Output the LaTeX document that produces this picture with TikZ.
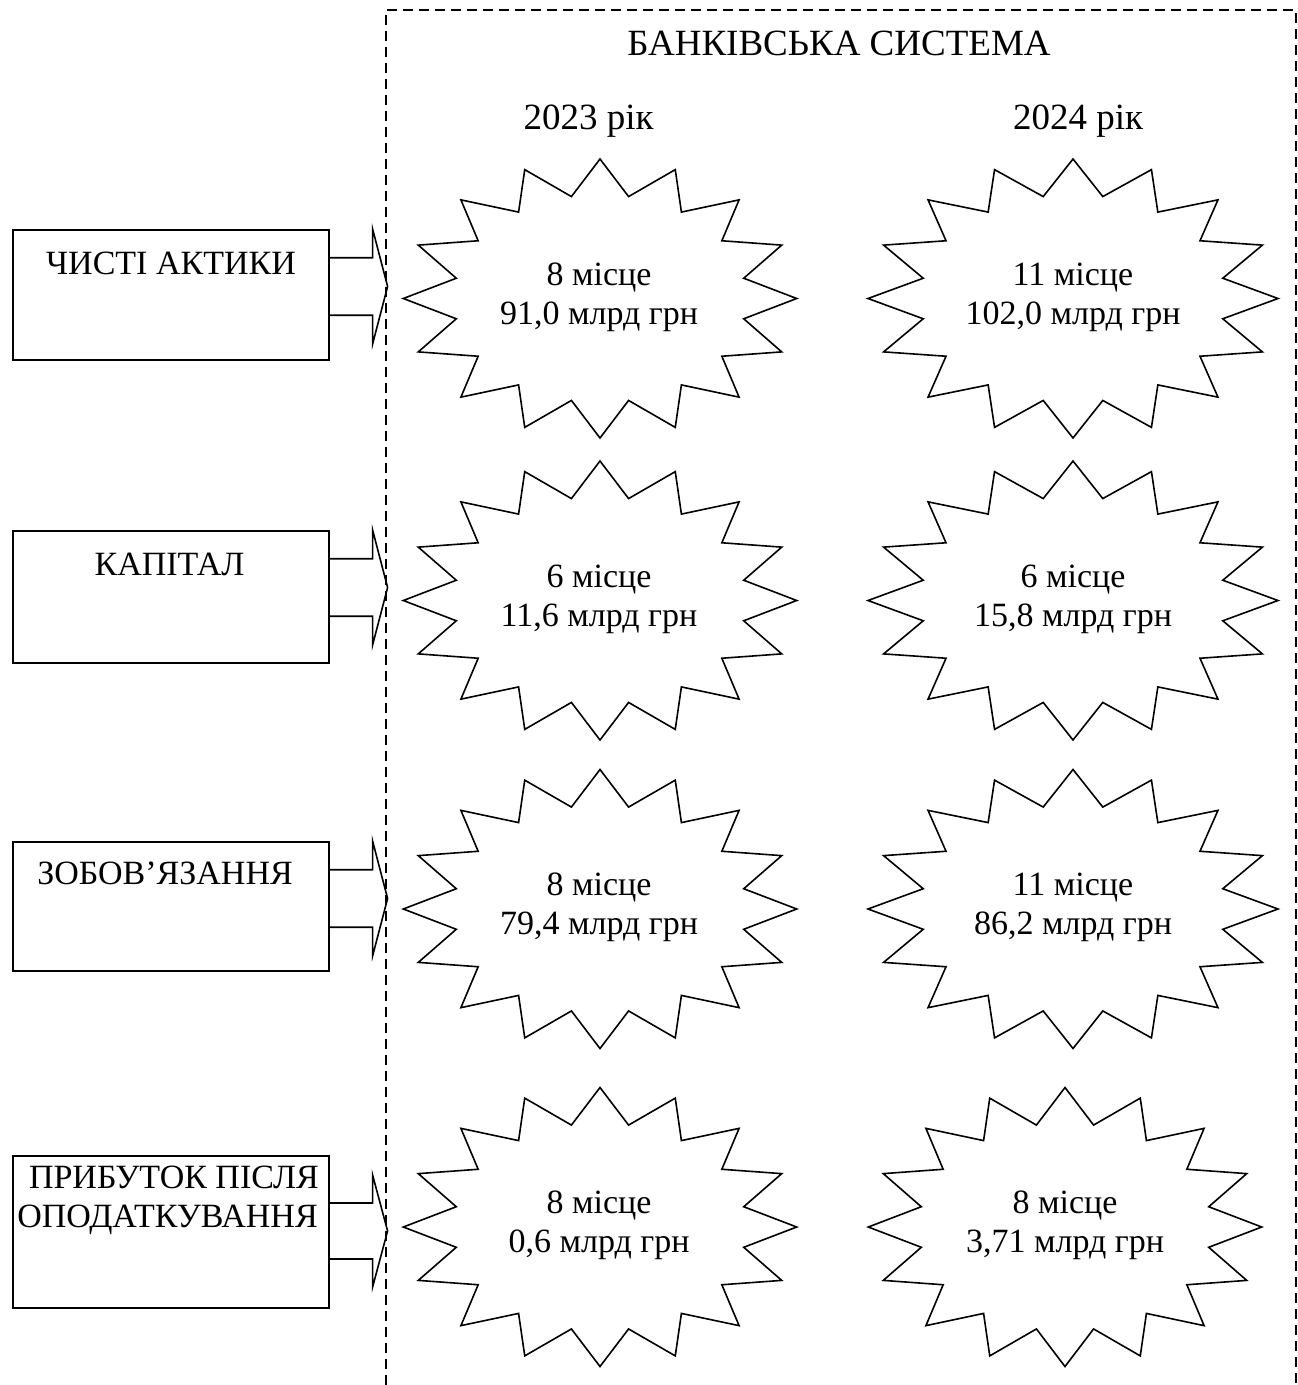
\documentclass[tikz,border=0pt]{standalone}
\usepackage{fontspec}
\setmainfont{Liberation Serif}
\usetikzlibrary{calc}
\tikzset{
  thin line/.style={line width=1.6pt, line join=miter},
  boxnode/.style={draw, line width=1.6pt, minimum width=316pt, inner sep=0pt, anchor=north west},
  boxtext/.style={font=\fontsize{34}{40}\selectfont, anchor=base, inner sep=0pt},
  startext/.style={font=\fontsize{34}{40}\selectfont, anchor=base, inner sep=0pt},
  headtext/.style={font=\fontsize{37}{44}\selectfont, anchor=base, inner sep=0pt},
  frameline/.style={line width=1.6pt, dash pattern=on 10pt off 6pt},
  blockarrow/.style={line width=1.6pt, line join=miter},
}
\newcommand\burst[4]{%
  \draw[thin line] plot[samples at={0,...,31}]
    ({#1+#3*(1-0.255*mod(\x,2))*cos(90+\x*11.25)},
     {#2-#4*(1-0.255*mod(\x,2))*sin(90+\x*11.25)}) -- cycle;}
\begin{document}
\begin{tikzpicture}[x=1pt,y=-1pt]
\useasboundingbox (0,0) rectangle (1298,1385);

% dashed frame
\draw[frameline] (386,1385) -- (386,10) -- (1296,10) -- (1296,1385);

% headings
\node[headtext] (title) at (839,55) {БАНКІВСЬКА СИСТЕМА};
\node[headtext] (y2023) at (588.5,129.5) {2023 рік};
\node[headtext] (y2024) at (1078,129.5) {2024 рік};

% left boxes
\node[boxnode, minimum height=130pt] (b1) at (12,229) {};
\node[boxnode, minimum height=132pt] (b2) at (12,530) {};
\node[boxnode, minimum height=129pt] (b3) at (12,841) {};
\node[boxnode, minimum height=152pt] (b4) at (12,1155) {};

\node[boxtext] (t1) at (171,274) {ЧИСТІ АКТИКИ};
\node[boxtext] (t2) at (169.5,575) {КАПІТАЛ};
\node[boxtext] (t3) at (165,884) {ЗОБОВ’ЯЗАННЯ};
\node[boxtext] (t4a) at (174,1188) {ПРИБУТОК ПІСЛЯ};
\node[boxtext] (t4b) at (167.5,1227) {ОПОДАТКУВАННЯ};

% block arrows
\foreach \b/\o/\h in {b1/0/115, b2/0/115, b3/0/115, b4/20/112}{
  \draw[blockarrow] ($(\b.north east)+(0,\o+0.25*\h)$) -- ++(43,0)
     -- ++(0,-0.25*\h) -- ++(15,0.5*\h) -- ++(-15,0.5*\h)
     -- ++(0,-0.25*\h) -- ++(-43,0);
}

% starbursts
\burst{600}{298.5}{196.7}{139.5}
\burst{1073}{298.5}{205}{139.5}
\burst{600}{600.5}{196.7}{139.5}
\burst{1073}{600.5}{205}{139.5}
\burst{600}{909}{196.7}{139.5}
\burst{1073}{909}{205}{139.5}
\burst{600}{1227}{196.7}{139.5}
\burst{1065}{1227}{196.7}{139.5}

% star texts
\node[startext] (s1a) at (599,285) {8 місце};
\node[startext] (s1b) at (599,324) {91,0 млрд грн};
\node[startext] (s2a) at (1073,285) {11 місце};
\node[startext] (s2b) at (1073,324) {102,0 млрд грн};
\node[startext] (s3a) at (599,587) {6 місце};
\node[startext] (s3b) at (599,626) {11,6 млрд грн};
\node[startext] (s4a) at (1073,587) {6 місце};
\node[startext] (s4b) at (1073,626) {15,8 млрд грн};
\node[startext] (s5a) at (599,895.5) {8 місце};
\node[startext] (s5b) at (599,934.5) {79,4 млрд грн};
\node[startext] (s6a) at (1073,895.5) {11 місце};
\node[startext] (s6b) at (1073,934.5) {86,2 млрд грн};
\node[startext] (s7a) at (599,1213.5) {8 місце};
\node[startext] (s7b) at (599,1252.5) {0,6 млрд грн};
\node[startext] (s8a) at (1065,1213.5) {8 місце};
\node[startext] (s8b) at (1065,1252.5) {3,71 млрд грн};
\end{tikzpicture}
\end{document}
